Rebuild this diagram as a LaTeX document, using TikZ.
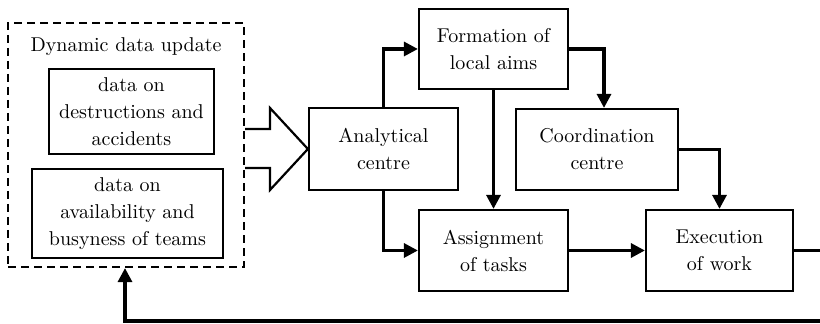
\documentclass[tikz,border=0pt]{standalone}
\usetikzlibrary{arrows.meta}
\begin{document}
\begin{tikzpicture}[x=0.5pt,y=-0.5pt,
  every node/.style={font=\fontsize{10}{13.5}\selectfont, align=center, inner sep=0pt},
  box/.style={draw, line width=1.1pt, rectangle},
  conn/.style={line width=1.6pt, -{Triangle[length=7pt,width=7pt]}},
]
\useasboundingbox (0,0) rectangle (820,324);
\clip (0,0) rectangle (820,324);
% dashed container
\node[draw, line width=1.1pt, dash pattern=on 4pt off 2.5pt, minimum width=118pt, minimum height=122pt] (dyn) at (126,145) {};
\node (title) at (126,47) {Dynamic data update};
\node[box, minimum width=82.5pt, minimum height=42.5pt] (d1) at (131.5,111.5) {data on\\destructions and\\accidents};
\node[box, minimum width=95.5pt, minimum height=44.5pt] (d2) at (127.5,213.5) {data on\\availability and\\busyness of teams};
% process boxes
\node[box, minimum width=74.5pt, minimum height=41pt] (ana) at (383.5,149) {Analytical\\centre};
\node[box, minimum width=74.5pt, minimum height=40pt] (form) at (493.5,49) {Formation of\\local aims};
\node[box, minimum width=74.5pt, minimum height=40.5pt] (assign) at (493.5,250.5) {Assignment\\of tasks};
\node[box, minimum width=81pt, minimum height=40.5pt] (coord) at (597,149.5) {Coordination\\centre};
\node[box, minimum width=73.5pt, minimum height=40.5pt] (exec) at (719.5,250.5) {Execution\\of work};
% hollow arrow
\draw[line width=1.1pt, line join=miter] (dyn.east |- 0,129) -- (270,129) -- (270,108) -- (ana.west) -- (270,190) -- (270,168) -- (dyn.east |- 0,168);
% connectors
\draw[conn] (ana.north) |- (form.west);
\draw[conn] (ana.south) |- (assign.west);
\draw[conn] (form.south) -- (assign.north);
\draw[conn] (form.east) -| ([xshift=3.5pt]coord.north);
\draw[conn] (coord.east) -| (exec.north);
\draw[conn] (assign.east) -- (exec.west);
% feedback loop (leaves the picture on the right)
\coordinate (out1) at (830,250.5);
\coordinate (out2) at (830,321);
\coordinate (fb) at (125,321);
\draw[conn] (exec.east) -- (out1) -- (out2) -- (fb) -- (fb |- dyn.south);
\end{tikzpicture}
\end{document}
